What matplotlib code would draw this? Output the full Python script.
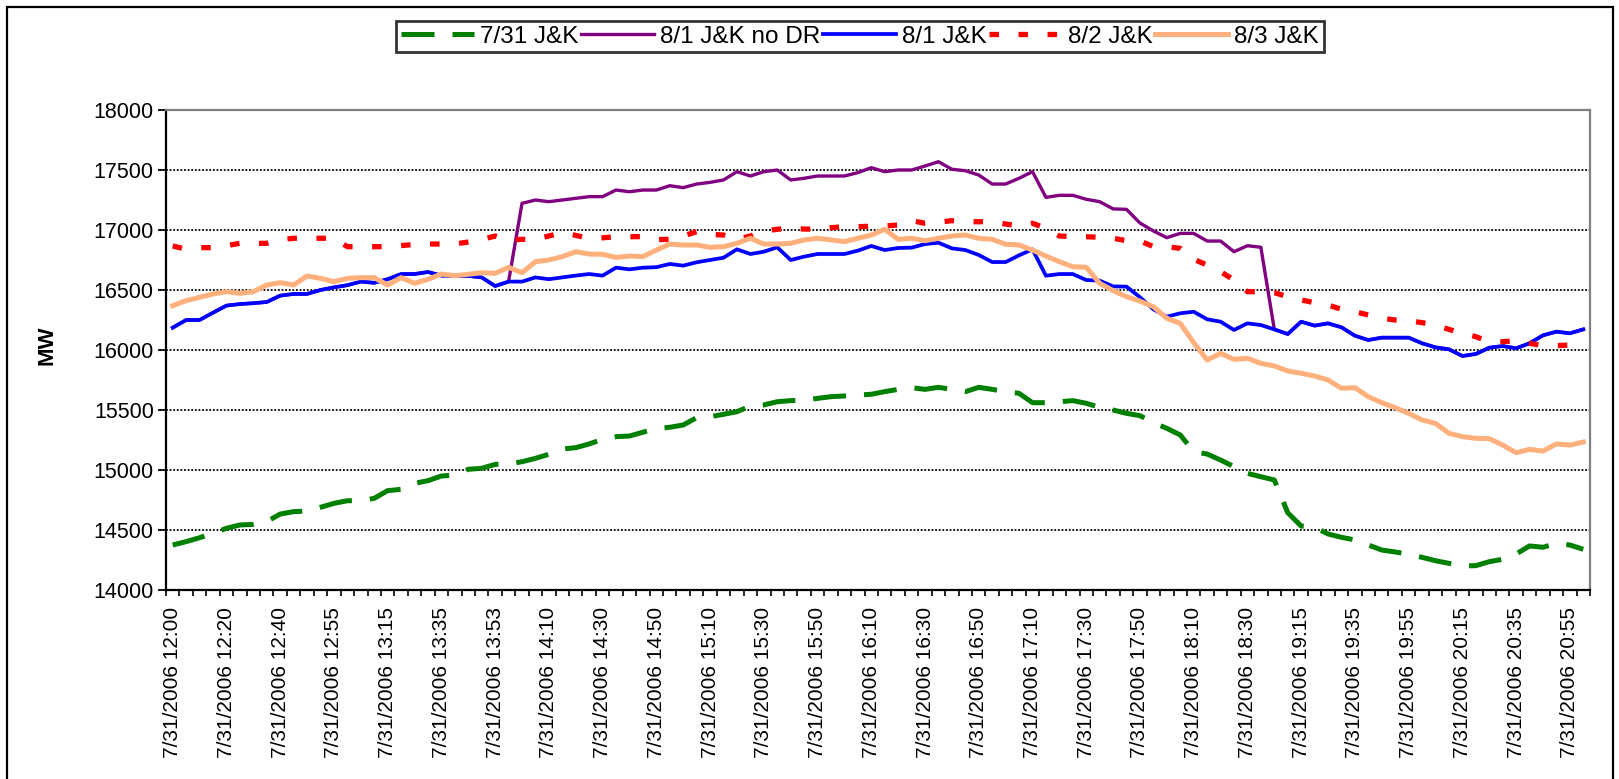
import matplotlib
matplotlib.use("Agg")
import matplotlib.pyplot as plt
import numpy as np
from matplotlib.patches import Rectangle

# ---------------- data ----------------
tick_labels = ["7/31/2006 12:00", "7/31/2006 12:20", "7/31/2006 12:40", "7/31/2006 12:55",
               "7/31/2006 13:15", "7/31/2006 13:35", "7/31/2006 13:53", "7/31/2006 14:10",
               "7/31/2006 14:30", "7/31/2006 14:50", "7/31/2006 15:10", "7/31/2006 15:30",
               "7/31/2006 15:50", "7/31/2006 16:10", "7/31/2006 16:30", "7/31/2006 16:50",
               "7/31/2006 17:10", "7/31/2006 17:30", "7/31/2006 17:50", "7/31/2006 18:10",
               "7/31/2006 18:30", "7/31/2006 19:15", "7/31/2006 19:35", "7/31/2006 19:55",
               "7/31/2006 20:15", "7/31/2006 20:35", "7/31/2006 20:55"]

jk_0731 = [14375, 14403, 14436, 14472, 14514, 14542, 14547, 14570, 14633, 14653,
           14658, 14689, 14722, 14744, 14744, 14764, 14828, 14839, 14889, 14911,
           14950, 14958, 15006, 15014, 15047, 15050, 15069, 15097, 15131, 15175,
           15186, 15217, 15256, 15278, 15283, 15315, 15345, 15356, 15375, 15436,
           15444, 15464, 15486, 15533, 15542, 15569, 15578, 15583, 15597, 15611,
           15617, 15625, 15631, 15653, 15672, 15686, 15672, 15689, 15672, 15653,
           15689, 15672, 15653, 15639, 15561, 15561, 15569, 15578, 15556, 15522,
           15500, 15472, 15453, 15394, 15347, 15292, 15153, 15133, 15083, 15028,
           14972, 14944, 14917, 14644, 14533, 14522, 14467, 14439, 14417, 14375,
           14333, 14317, 14297, 14272, 14244, 14222, 14200, 14203, 14236, 14256,
           14300, 14367, 14356, 14389, 14375, 14339]

jk_0801 = [16186, 16250, 16250, 16311, 16370, 16383, 16390, 16400, 16453, 16467,
           16467, 16500, 16522, 16540, 16570, 16560, 16590, 16633, 16633, 16650,
           16620, 16617, 16617, 16605, 16533, 16570, 16570, 16605, 16590, 16605,
           16620, 16633, 16620, 16686, 16672, 16686, 16690, 16717, 16703, 16731,
           16750, 16769, 16839, 16800, 16819, 16856, 16750, 16778, 16800, 16800,
           16800, 16828, 16867, 16833, 16850, 16853, 16883, 16894, 16847, 16833,
           16792, 16733, 16733, 16789, 16839, 16619, 16633, 16633, 16583, 16578,
           16530, 16528, 16440, 16339, 16278, 16306, 16319, 16256, 16236, 16167,
           16222, 16208, 16172, 16133, 16236, 16203, 16222, 16189, 16119, 16083,
           16103, 16103, 16103, 16056, 16022, 16006, 15950, 15967, 16019, 16033,
           16014, 16056, 16122, 16153, 16139, 16172]

jk_0801_no_dr = [16186, 16250, 16250, 16311, 16370, 16383, 16390, 16400, 16453, 16467,
                 16467, 16500, 16522, 16540, 16570, 16560, 16590, 16633, 16633, 16650,
                 16620, 16617, 16617, 16605, 16533, 16570, 17222, 17250, 17236, 17250,
                 17264, 17278, 17278, 17333, 17319, 17333, 17333, 17369, 17353, 17383,
                 17397, 17417, 17486, 17450, 17486, 17500, 17417, 17431, 17450, 17450,
                 17450, 17478, 17519, 17486, 17500, 17500, 17533, 17569, 17506, 17494,
                 17458, 17383, 17383, 17431, 17486, 17272, 17289, 17289, 17256, 17236,
                 17176, 17172, 17058, 16992, 16936, 16972, 16972, 16908, 16908, 16819,
                 16869, 16856, 16172, 16133, 16236, 16203, 16222, 16189, 16119, 16083,
                 16103, 16103, 16103, 16056, 16022, 16006, 15950, 15967, 16019, 16033,
                 16014, 16056, 16122, 16153, 16139, 16172]

jk_0802 = [16867, 16840, 16853, 16853, 16870, 16889, 16889, 16889, 16920, 16931,
           16931, 16931, 16931, 16861, 16861, 16861, 16861, 16870, 16880, 16883,
           16883, 16883, 16900, 16920, 16950, 16917, 16922, 16922, 16950, 16978,
           16955, 16931, 16935, 16944, 16944, 16945, 16920, 16922, 16950, 16986,
           16964, 16958, 16922, 16950, 16992, 17006, 17014, 17008, 17006, 17019,
           17028, 17028, 17031, 17033, 17042, 17078, 17056, 17064, 17078, 17069,
           17069, 17069, 17050, 17033, 17056, 17014, 16950, 16944, 16944, 16939,
           16931, 16911, 16910, 16861, 16861, 16847, 16756, 16708, 16653, 16583,
           16486, 16486, 16478, 16444, 16417, 16394, 16375, 16339, 16319, 16292,
           16264, 16250, 16244, 16228, 16208, 16172, 16139, 16111, 16069, 16069,
           16078, 16056, 16036, 16036, 16042, 16040]

jk_0803 = [16369, 16411, 16439, 16467, 16486, 16472, 16486, 16542, 16561, 16542,
           16617, 16597, 16569, 16597, 16603, 16603, 16542, 16603, 16556, 16589,
           16633, 16619, 16631, 16644, 16639, 16689, 16644, 16736, 16750, 16778,
           16819, 16800, 16797, 16772, 16783, 16778, 16833, 16883, 16875, 16875,
           16856, 16861, 16889, 16931, 16883, 16883, 16889, 16917, 16931, 16917,
           16903, 16931, 16958, 17006, 16922, 16931, 16911, 16931, 16950, 16958,
           16931, 16922, 16881, 16875, 16833, 16783, 16736, 16694, 16689, 16556,
           16495, 16444, 16407, 16361, 16264, 16222, 16061, 15917, 15972, 15922,
           15931, 15889, 15867, 15825, 15806, 15783, 15750, 15681, 15686, 15611,
           15561, 15519, 15472, 15417, 15389, 15306, 15278, 15264, 15261, 15208,
           15144, 15172, 15158, 15217, 15208, 15233]

series_names = ["7/31 J&K", "8/1 J&K no DR", "8/1 J&K", "8/2 J&K", "8/3 J&K"]

# ---------------- fonts ----------------
plt.rcParams["font.family"] = ["Liberation Sans", "DejaVu Sans"]

# ---------------- figure ----------------
W, H = 1619, 779
fig = plt.figure(figsize=(W / 100, H / 100), dpi=100)
fig.patch.set_facecolor("white")

L, R, T, B = 166, 1590, 110, 590
ax = fig.add_axes([L / W, 1 - B / H, (R - L) / W, (B - T) / H])

x = np.arange(len(jk_0801))
n = len(x)

ax.plot(x, jk_0731, color="#008000", lw=3.6, dashes=(6.6, 3.6), label=series_names[0], zorder=3)
ax.plot(x, jk_0801_no_dr, color="#800080", lw=2.4, label=series_names[1], zorder=4)
ax.plot(x, jk_0801, color="#0000FF", lw=2.7, label=series_names[2], zorder=5)
ax.plot(x, jk_0802, color="#FF0000", lw=3.8, dashes=(1.8, 3.7), label=series_names[3], zorder=6)
ax.plot(x, jk_0803, color="#FFB07C", lw=3.6, label=series_names[4], zorder=7)

ax.set_xlim(-0.5, n - 0.5)
ax.set_ylim(14000, 18000)

# y axis
ax.set_yticks(np.arange(14000, 18001, 500))
ax.tick_params(axis="y", direction="out", length=5.8, width=1.3, pad=3, labelsize=15.5, colors="black")
for yv in range(14500, 18000, 500):
    ax.axhline(yv, color="black", lw=1.3, ls=(0, (1, 1)), zorder=1)

# x axis: tick marks between categories, labels every 4 categories
ax.set_xticks(np.arange(-0.5, n, 1.0), minor=True)
ax.tick_params(axis="x", which="minor", direction="out", length=4.3, width=1.2)
ax.set_xticks(np.arange(0, n, 4)[:len(tick_labels)])
ax.set_xticklabels(tick_labels, rotation=90, fontsize=15)
ax.tick_params(axis="x", which="major", length=0, pad=12)

ax.set_ylabel("MW", fontsize=16, fontweight="bold")
ax.yaxis.set_label_coords((57 - L) / (R - L), 0.51)

for side in ("left", "bottom"):
    ax.spines[side].set_color("black")
    ax.spines[side].set_linewidth(1.6)
for side in ("top", "right"):
    ax.spines[side].set_color("#808080")
    ax.spines[side].set_linewidth(1.6)

# legend
leg = fig.legend(loc="center", bbox_to_anchor=((393 + 1327) / 2 / W, 1 - 36.5 / H),
                 ncol=5, fontsize=17.5, frameon=True, fancybox=False,
                 handlelength=3.0, handletextpad=0.25, columnspacing=0.1,
                 borderpad=0.2, borderaxespad=0)
leg.get_frame().set_edgecolor("black")
leg.get_frame().set_linewidth(2.0)

# outer chart border
fig.patches.append(Rectangle((7 / W, -0.02), (1613 - 7) / W, 1.02 - 7 / H,
                             transform=fig.transFigure, fill=False,
                             edgecolor="black", lw=1.6, zorder=0))

fig.savefig("out.png", dpi=100, facecolor="white")
